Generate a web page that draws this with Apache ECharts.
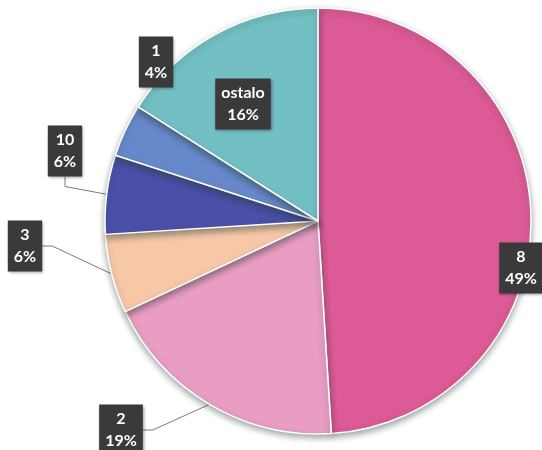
<!DOCTYPE html>
<html>
<head>
<meta charset="utf-8">
<script src="https://cdn.jsdelivr.net/npm/echarts@6/dist/echarts.min.js"></script>
<style>
html,body{margin:0;padding:0;background:#fff;}
#chart{width:542px;height:450px;}
</style>
</head>
<body>
<div id="chart"></div>
<script>
const categories = ['8', '2', '3', '10', '1', 'ostalo'];
const shares = [49, 19, 6, 6, 4, 16];
const colors = ['#dc5a96', '#e99dc3', '#f7c8a8', '#4a50a8', '#6789cc', '#73c0c4'];
const labelCenters = [[521, 268], [121, 430], [25, 246], [65, 151], [156, 62], [243, 104]];
const insideLabels = ['8', 'ostalo'];

const chart = echarts.init(document.getElementById('chart'), null, {renderer: 'canvas'});
const data = categories.map((c, i) => {
  const inside = insideLabels.indexOf(c) >= 0;
  return {
    name: c,
    value: shares[i],
    itemStyle: {color: colors[i]},
    label: inside ? {position: 'inside'} : {},
    labelLine: {show: !inside}
  };
});

chart.setOption({
  animation: false,
  series: [{
    type: 'pie',
    center: [318, 221],
    radius: 213,
    startAngle: 90,
    clockwise: true,
    data: data,
    itemStyle: {
      borderColor: '#ffffff',
      borderWidth: 1.5,
      shadowColor: 'rgba(40,60,50,0.45)',
      shadowBlur: 6,
      shadowOffsetY: 3
    },
    label: {
      show: true,
      position: 'outside',
      formatter: '{b}\n{c}%',
      color: '#ffffff',
      fontFamily: 'Lato',
      fontWeight: 'bold',
      fontSize: 16,
      lineHeight: 22,
      align: 'center',
      overflow: 'none',
      backgroundColor: '#3a3a3a',
      padding: [4, 6, 3, 6],
      shadowColor: 'rgba(0,0,0,0.4)',
      shadowBlur: 3,
      shadowOffsetX: 1,
      shadowOffsetY: 1
    },
    labelLine: {
      show: true,
      length: 10,
      length2: 10,
      lineStyle: {color: '#7a7a7a', width: 1}
    },
    labelLayout: function (params) {
      const p = labelCenters[params.dataIndex];
      return {x: p[0], y: p[1], align: 'center', verticalAlign: 'middle'};
    }
  }]
});
</script>
</body>
</html>
